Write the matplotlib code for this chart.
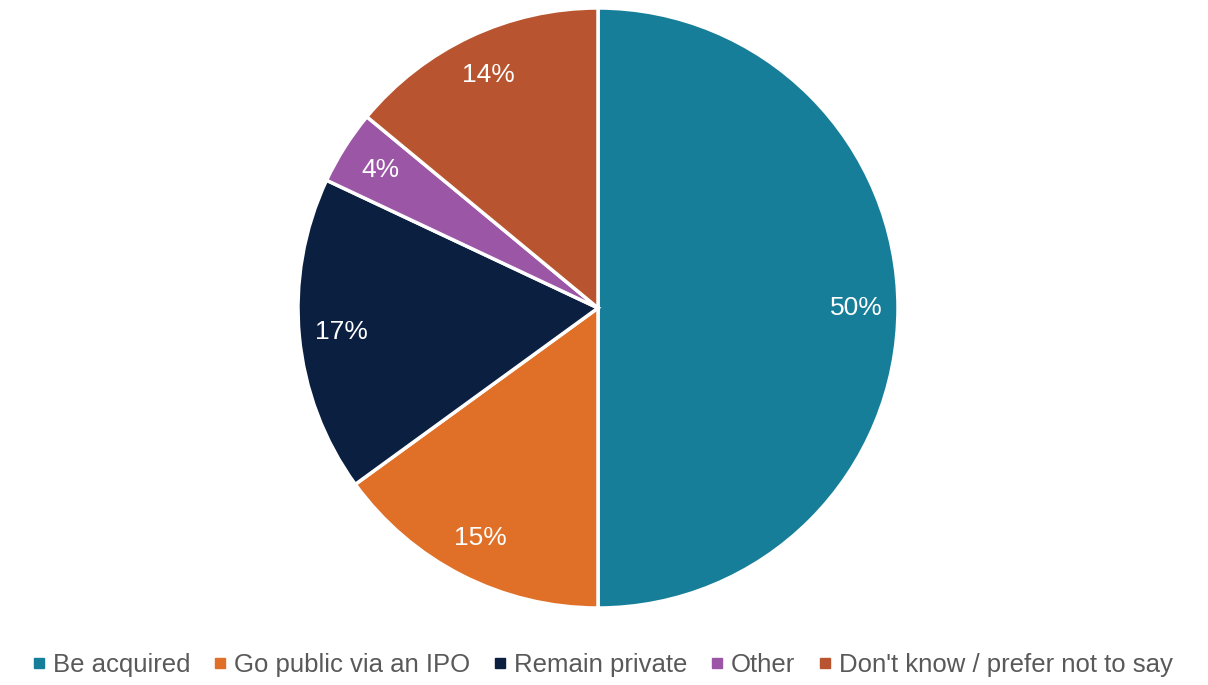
import matplotlib
matplotlib.use("Agg")
import matplotlib.pyplot as plt
from matplotlib.lines import Line2D

categories = ["Be acquired", "Go public via an IPO", "Remain private", "Other", "Don't know / prefer not to say"]
values = [50, 15, 17, 4, 14]
colors = ["#177E99", "#E07028", "#0B1F40", "#9B56A6", "#B8542F"]

plt.rcParams['font.family'] = ['Liberation Sans', 'DejaVu Sans']

fig = plt.figure(figsize=(12.08, 6.85), dpi=100)
ax = fig.add_axes([(598 - 300) / 1208, (685 - 608) / 685, 600 / 1208, 600 / 685])
wedges, texts = ax.pie(values, colors=colors, startangle=90, counterclock=False,
                       labels=[f"{v}%" for v in values], labeldistance=0.86,
                       wedgeprops=dict(edgecolor="white", linewidth=2.5),
                       textprops=dict(color="white", fontsize=19))
for t in texts:
    t.set_horizontalalignment("center")
    t.set_verticalalignment("center")
ax.set_xlim(-1, 1)
ax.set_ylim(-1, 1)
ax.set_aspect("equal")
ax.axis("off")

handles = [Line2D([0], [0], marker="s", linestyle="none", markersize=7,
                  markerfacecolor=c, markeredgecolor=c) for c in colors]
fig.legend(handles, categories, loc="center", bbox_to_anchor=(0.499, (685 - 665) / 685),
           ncol=5, frameon=False, fontsize=18.5, handlelength=0.5, handletextpad=0.3,
           columnspacing=0.9, labelcolor="#595959")

fig.savefig("out.png", dpi=100)
